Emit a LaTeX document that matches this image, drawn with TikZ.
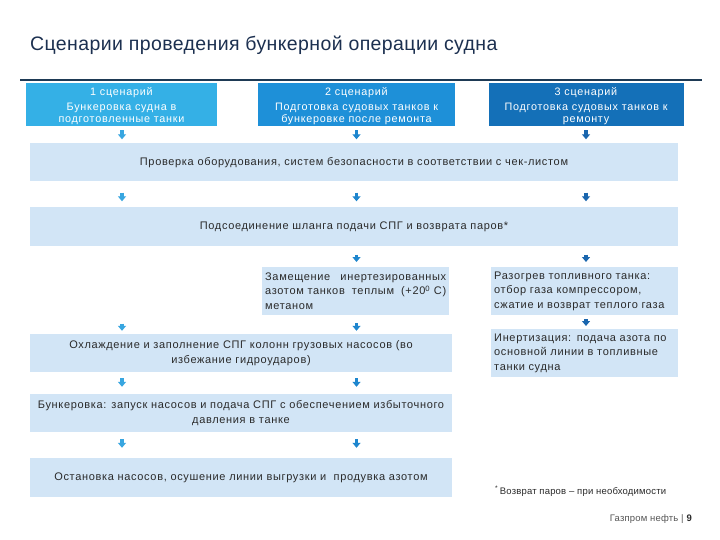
\documentclass[tikz,border=0pt]{standalone}
\usepackage{fontspec}
\setmainfont{Liberation Sans}
\newfontfamily\spaced{Liberation Sans}[LetterSpace=6]
\newfontfamily\hspaced{Liberation Sans}[LetterSpace=7]
\newfontfamily\tspaced{Liberation Sans}[LetterSpace=2]
\usetikzlibrary{arrows.meta,calc}
\definecolor{titlec}{HTML}{1C3050}
\definecolor{rulec}{HTML}{1E3A55}
\definecolor{hA}{HTML}{34B0E6}
\definecolor{hB}{HTML}{1E90D8}
\definecolor{hC}{HTML}{1470B8}
\definecolor{aA}{HTML}{38A6E0}
\definecolor{aB}{HTML}{1E86CE}
\definecolor{aC}{HTML}{1A66AE}
\definecolor{pale}{HTML}{D2E5F6}
\definecolor{txt}{HTML}{2A2A2A}
\definecolor{foot}{HTML}{555555}
\tikzset{
  hbox/.style={rectangle, minimum height=43pt, inner sep=0pt},
  htext/.style={text=white, align=center, inner sep=0pt, yshift=-1.5pt, font=\hspaced\fontsize{10.8}{12.3}\selectfont},
  pbox/.style={rectangle, fill=pale, inner sep=3pt, text=txt, font=\spaced\fontsize{11}{14.5}\selectfont},
  arr/.style 2 args={line width=3.2pt, -{Triangle[width=8pt,length=5pt]}, shorten <=#1, shorten >=#2},
}
\begin{document}
\begin{tikzpicture}[x=1pt,y=-1pt]
\useasboundingbox (0,0) rectangle (720,540);
\fill[white] (0,0) rectangle (720,540);
% title
\node[anchor=west, text=titlec, font=\tspaced\fontsize{19.5}{23}\selectfont, inner sep=0pt] (title) at (30,45) {Сценарии проведения бункерной операции судна};
\coordinate (rl) at (20,80);
\coordinate (rr) at (702,80);
\draw[rulec, line width=1.3pt] (rl) -- (rr);
% column positions
\coordinate (c1) at (122,0);
\coordinate (c2) at (356.5,0);
\coordinate (c3) at (586,0);
% header boxes
\node[hbox, fill=hA, minimum width=191pt, label={[htext]center:{1 сценарий\\[2.5pt]Бункеровка судна в\\подготовленные танки}}] (h1) at (121.5,104.5) {};
\node[hbox, fill=hB, minimum width=197pt, label={[htext]center:{2 сценарий\\[2.5pt]Подготовка судовых танков к\\бункеровке после ремонта}}] (h2) at (356.5,104.5) {};
\node[hbox, fill=hC, minimum width=195pt, label={[htext]center:{3 сценарий\\[2.5pt]Подготовка судовых танков к\\ремонту}}] (h3) at (586,104.5) {};
% wide boxes
\node[pbox, minimum width=648pt, minimum height=38pt] (b1) at (354,162.5) {Проверка оборудования, систем безопасности в соответствии с чек-листом};
\node[pbox, minimum width=648pt, minimum height=38pt] (b2) at (354,226.5) {Подсоединение шланга подачи СПГ и возврата паров*};
% middle row
\node[pbox, minimum width=187pt, minimum height=48pt, text width=181pt, align=left, anchor=north west] (b3) at (262,267) {Замещение\hfill инертезированных\\азотом танков\hfill теплым\hfill (+20\textsuperscript{0}~С)\\метаном};
\node[pbox, minimum width=187pt, minimum height=48pt, text width=181pt, align=left, anchor=north west] (b4) at (491,267) {Разогрев топливного танка:\\отбор газа компрессором,\\сжатие и возврат теплого газа};
\node[pbox, minimum width=422pt, minimum height=38pt, align=center] (b5) at (241,353) {Охлаждение и заполнение СПГ колонн грузовых насосов (во\\избежание гидроударов)};
\node[pbox, minimum width=187pt, minimum height=48pt, text width=181pt, align=left, anchor=north west] (b6) at (491,329) {Инертизация: подача азота по\\основной линии в топливные\\танки судна};
\node[pbox, minimum width=422pt, minimum height=38pt, align=center] (b7) at (241,413) {Бункеровка: запуск насосов и подача СПГ с обеспечением избыточного\\давления в танке};
\node[pbox, minimum width=422pt, minimum height=39pt] (b8) at (241,477.5) {Остановка насосов, осушение линии выгрузки и~ продувка азотом};
% arrows column 1
\draw[aA, arr={4pt}{4pt}] (h1.south -| c1) -- (b1.north -| c1);
\draw[aA, arr={11pt}{6pt}] (b1.south -| c1) -- (b2.north -| c1);
\draw[aA, arr={78pt}{3pt}] (b2.south -| c1) -- (b5.north -| c1);
\draw[aA, arr={6pt}{7pt}] (b5.south -| c1) -- (b7.north -| c1);
\draw[aA, arr={7pt}{10pt}] (b7.south -| c1) -- (b8.north -| c1);
% arrows column 2
\draw[aB, arr={4pt}{4pt}] (h2.south -| c2) -- (b1.north -| c2);
\draw[aB, arr={11pt}{6pt}] (b1.south -| c2) -- (b2.north -| c2);
\draw[aB, arr={9pt}{5pt}] (b2.south -| c2) -- (b3.north -| c2);
\draw[aB, arr={8pt}{3pt}] (b3.south -| c2) -- (b5.north -| c2);
\draw[aB, arr={6pt}{7pt}] (b5.south -| c2) -- (b7.north -| c2);
\draw[aB, arr={7pt}{10pt}] (b7.south -| c2) -- (b8.north -| c2);
% arrows column 3
\draw[aC, arr={4pt}{4pt}] (h3.south -| c3) -- (b1.north -| c3);
\draw[aC, arr={11pt}{6pt}] (b1.south -| c3) -- (b2.north -| c3);
\draw[aC, arr={9pt}{5pt}] (b2.south -| c3) -- (b4.north -| c3);
\draw[aC, arr={4pt}{3pt}] (b4.south -| c3) -- (b6.north -| c3);
% footnotes
\node[anchor=west, text=txt, font=\tspaced\fontsize{9.5}{11}\selectfont, inner sep=0pt] (fn) at (495,491) {\textsuperscript{*}\,Возврат паров – при необходимости};
\node[anchor=east, text=foot, font=\tspaced\fontsize{9.5}{11}\selectfont, inner sep=0pt] (pg) at (692,519) {Газпром нефть |\ \textcolor{txt}{\bfseries 9}};
\end{tikzpicture}
\end{document}
